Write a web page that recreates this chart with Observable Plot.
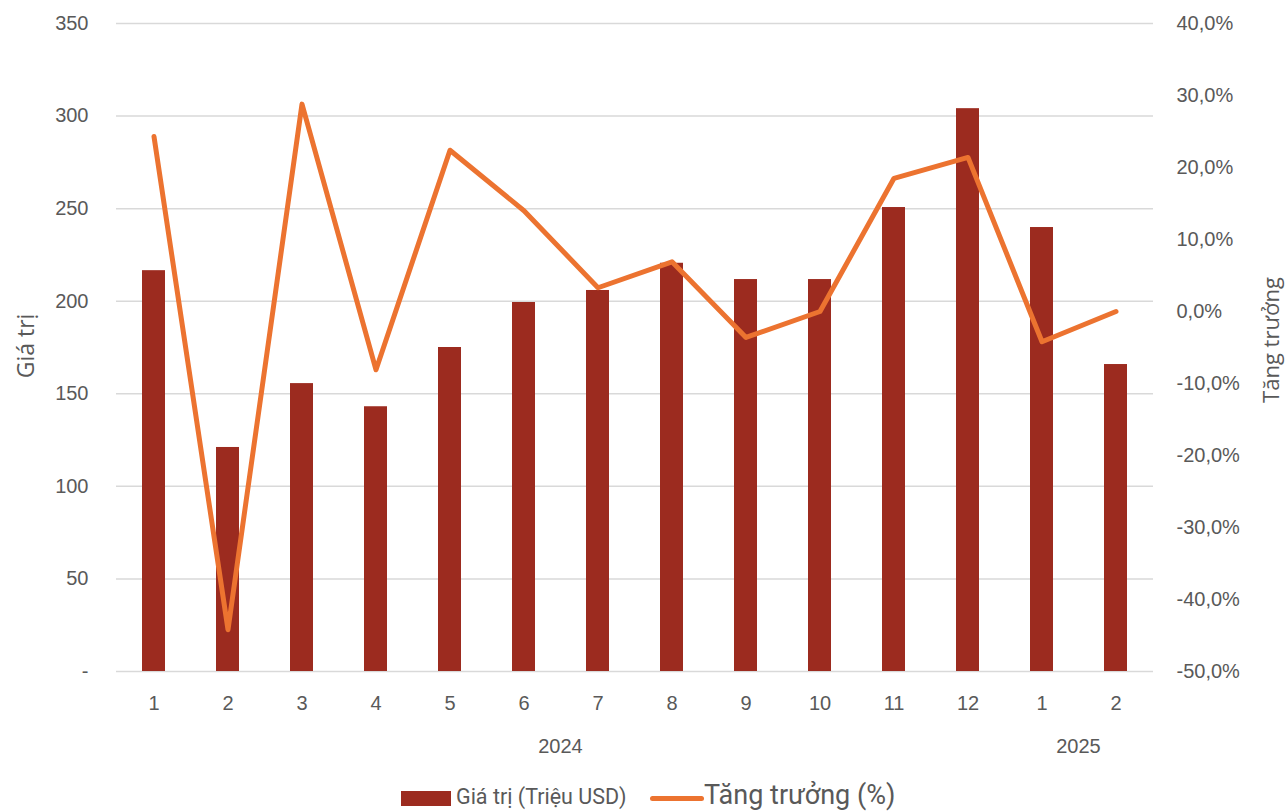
<!DOCTYPE html>
<html>
<head>
<meta charset="utf-8">
<script src="https://cdn.jsdelivr.net/npm/d3@7"></script>
<script src="https://cdn.jsdelivr.net/npm/@observablehq/plot@0.6"></script>
<style>
  html, body { margin: 0; padding: 0; background: #fff; }
  #wrap { width: 1286px; height: 811px; position: relative; overflow: hidden; }
  #legend { position: absolute; left: 0; top: 770px; width: 1286px; height: 41px; font-family: Roboto, "Liberation Sans", sans-serif; color: #595959; }
  .sw { position: absolute; }
  .lt { position: absolute; white-space: nowrap; }
</style>
</head>
<body>
<div id="wrap"></div>
<script>
// ---- data ----
const months = ["1","2","3","4","5","6","7","8","9","10","11","12","1","2"];
const years  = ["2024","2024","2024","2024","2024","2024","2024","2024","2024","2024","2024","2024","2025","2025"];
const values = [216.5, 121, 155.5, 143, 175, 199.3, 205.8, 220.5, 211.7, 211.7, 250.6, 304, 239.8, 165.8];
const growth = [24.3, -44.2, 28.8, -8.1, 22.4, 14.0, 3.3, 6.9, -3.6, 0.0, 18.5, 21.4, -4.2, 0.0];
const leftTicks = [0, 50, 100, 150, 200, 250, 300, 350];
const rightTicks = [-50, -40, -30, -20, -10, 0, 10, 20, 30, 40];
const yearLabels = ["2024", "2025"];
const seriesNames = ["Giá trị (Triệu USD)", "Tăng trưởng (%)"];
const axisTitles = ["Giá trị", "Tăng trưởng"];

const barColor = "#9C2B1F";
const lineColor = "#EC7330";
const textColor = "#595959";

// build table
const rows = months.map((m, i) => ({key: years[i] + "-" + m, month: m, year: years[i], value: values[i], growth: growth[i]}));
const keys = rows.map(d => d.key);

// map right-axis (growth %) onto left y domain
const gMin = -50, gMax = 40, yMax = 350;
const toY = g => (g - gMin) / (gMax - gMin) * yMax;
const fromY = y => y / yMax * (gMax - gMin) + gMin;

const fmtPct = v => {
  const r = Math.round(v * 10) / 10;
  return r.toFixed(1).replace(".", ",") + "%";
};

const chart = Plot.plot({
  width: 1286,
  height: 770,
  marginLeft: 116,
  marginRight: 133,
  marginTop: 23,
  marginBottom: 99,
  style: {fontFamily: "'Liberation Sans', Arial, sans-serif", fontSize: "20px", color: textColor, background: "#fff"},
  x: {domain: keys, paddingInner: 0.685, paddingOuter: 0.3425, align: 0.5, label: null},
  y: {domain: [0, yMax], label: null},
  marks: [
    Plot.gridY(leftTicks, {stroke: "#d9d9d9", strokeOpacity: 1, strokeWidth: 1.5}),
    Plot.barY(rows, {x: "key", y: "value", fill: barColor}),
    Plot.line(rows, {x: "key", y: d => toY(d.growth), stroke: lineColor, strokeWidth: 5, strokeLinecap: "round", strokeLinejoin: "round"}),
    Plot.axisX({tickSize: 0, tickPadding: 24, tickFormat: k => rows.find(r => r.key === k).month, label: null, fontSize: 20, color: textColor}),
    Plot.axisY(leftTicks, {anchor: "left", tickSize: 0, tickPadding: 28, tickFormat: v => v === 0 ? "-" : String(v), label: null, fontSize: 20}),
    Plot.axisY(rightTicks.map(toY), {anchor: "right", tickSize: 0, tickPadding: 23, tickFormat: v => fmtPct(fromY(v)), label: null, fontSize: 20, textAnchor: "start"})
  ]
});

document.getElementById("wrap").appendChild(chart);

// year labels and axis titles positioned through the scales
const svg = d3.select(chart);
const xs = chart.scale("x");
const ys = chart.scale("y");
const bw = xs.bandwidth;
yearLabels.forEach(yr => {
  const ks = rows.filter(r => r.year === yr).map(r => r.key);
  const a = xs.apply(ks[0]) + bw / 2;
  const b = xs.apply(ks[ks.length - 1]) + bw / 2;
  svg.append("text")
    .attr("x", (a + b) / 2)
    .attr("y", ys.apply(0) + 82)
    .attr("text-anchor", "middle")
    .attr("fill", textColor)
    .attr("font-size", 20)
    .text(yr);
});
const midY = (ys.apply(0) + ys.apply(yMax)) / 2;
svg.append("text")
  .attr("transform", `translate(34,${midY - 1}) rotate(-90)`)
  .attr("text-anchor", "middle")
  .attr("fill", textColor)
  .attr("font-family", "'Open Sans', 'Noto Sans', sans-serif")
  .attr("font-size", 23)
  .text(axisTitles[0]);
svg.append("text")
  .attr("transform", `translate(1279,${midY - 7}) rotate(-90)`)
  .attr("text-anchor", "middle")
  .attr("fill", textColor)
  .attr("font-family", "'Open Sans', 'Noto Sans', sans-serif")
  .attr("font-size", 22)
  .text(axisTitles[1]);

// legend
const legend = document.createElement("div");
legend.id = "legend";
legend.innerHTML = `
  <div class="sw" style="left:401px;top:21px;width:50px;height:15px;background:${barColor}"></div>
  <div class="lt" style="left:456px;top:14px;font-size:21.5px;line-height:26px;">${seriesNames[0]}</div>
  <div class="sw" style="left:650px;top:26px;width:54px;height:5px;border-radius:3px;background:${lineColor}"></div>
  <div class="lt" style="left:704px;top:9px;font-size:27px;line-height:32px;">${seriesNames[1]}</div>
`;
document.getElementById("wrap").appendChild(legend);
</script>
</body>
</html>
